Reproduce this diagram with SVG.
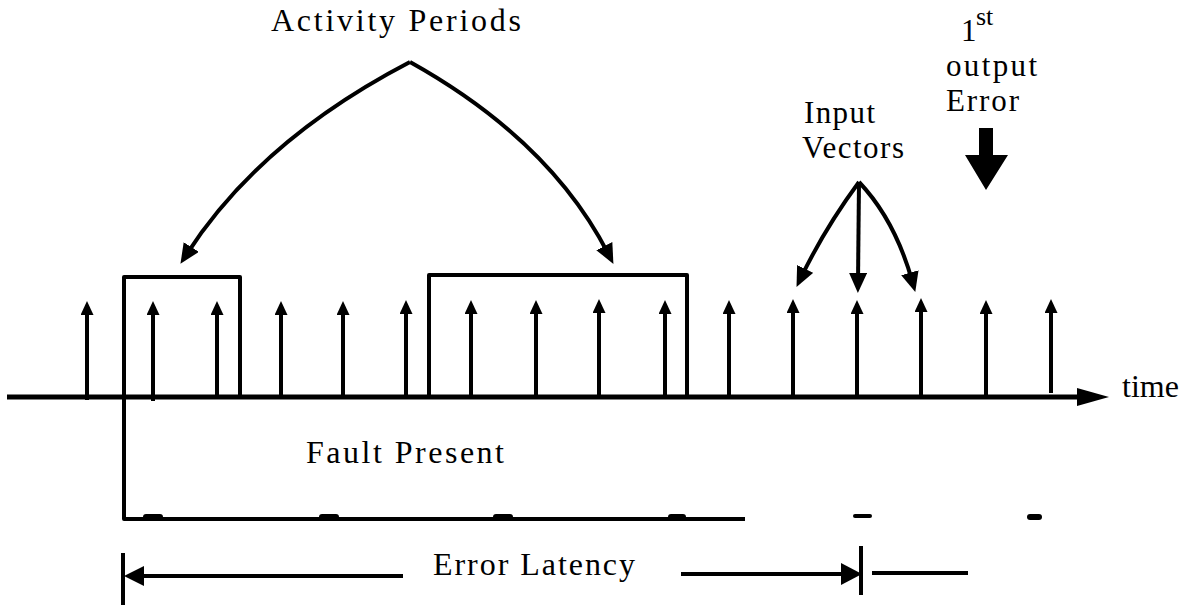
<svg xmlns="http://www.w3.org/2000/svg" width="1182" height="606" viewBox="0 0 1182 606">
<style>
.ln{fill:none;stroke:#000;stroke-width:4;stroke-linecap:butt;stroke-linejoin:round}
.ax{fill:none;stroke:#000;stroke-width:5}
.fl{fill:#000;stroke:none}
.tx{font-family:"Liberation Serif","Times New Roman",serif;font-size:32px;fill:#000}
.sm{font-size:31px}
</style>
<defs>
<marker id="ahS" markerUnits="userSpaceOnUse" viewBox="0 0 14 13" markerWidth="14" markerHeight="13" refX="5" refY="6.5" orient="auto">
<path d="M0,0 L14,6.5 L0,13 z" fill="#000"/>
</marker>
<marker id="ahL" markerUnits="userSpaceOnUse" viewBox="0 0 20 18" markerWidth="20" markerHeight="18" refX="9" refY="9" orient="auto">
<path d="M0,0 L20,9 L0,18 z" fill="#000"/>
</marker>
</defs>
<rect width="1182" height="606" fill="#fff"/>

<g id="time-axis">
<line class="ax" x1="7" y1="397" x2="1080" y2="397"/>
<polygon class="fl" points="1077,388 1109,397 1077,406"/>
<text class="tx" x="1122" y="397" textLength="57" lengthAdjust="spacing">time</text>
</g>

<g id="input-vectors">
<line class="ln" x1="87" y1="400" x2="87" y2="310" marker-end="url(#ahS)"/>
<line class="ln" x1="153" y1="401" x2="153" y2="310" marker-end="url(#ahS)"/>
<line class="ln" x1="217" y1="397" x2="217" y2="310" marker-end="url(#ahS)"/>
<line class="ln" x1="281" y1="397" x2="281" y2="310" marker-end="url(#ahS)"/>
<line class="ln" x1="343" y1="397" x2="343" y2="310" marker-end="url(#ahS)"/>
<line class="ln" x1="406" y1="397" x2="406" y2="309" marker-end="url(#ahS)"/>
<line class="ln" x1="471" y1="397" x2="471" y2="309" marker-end="url(#ahS)"/>
<line class="ln" x1="536" y1="397" x2="536" y2="309" marker-end="url(#ahS)"/>
<line class="ln" x1="599" y1="397" x2="599" y2="308" marker-end="url(#ahS)"/>
<line class="ln" x1="665" y1="397" x2="665" y2="309" marker-end="url(#ahS)"/>
<line class="ln" x1="729" y1="397" x2="729" y2="309" marker-end="url(#ahS)"/>
<line class="ln" x1="793" y1="397" x2="793" y2="308" marker-end="url(#ahS)"/>
<line class="ln" x1="857" y1="397" x2="857" y2="309" marker-end="url(#ahS)"/>
<line class="ln" x1="921" y1="397" x2="921" y2="307" marker-end="url(#ahS)"/>
<line class="ln" x1="986" y1="397" x2="986" y2="309" marker-end="url(#ahS)"/>
<line class="ln" x1="1051" y1="393" x2="1051" y2="308" marker-end="url(#ahS)"/>
</g>

<g id="activity-period-1">
<path class="ln" d="M124,397 V277 H240 V397"/>
</g>
<g id="activity-period-2">
<path class="ln" d="M429,397 V275 H687 V397"/>
</g>

<g id="activity-periods-label">
<text class="tx" x="271" y="31" textLength="250" lengthAdjust="spacing">Activity Periods</text>
</g>

<g id="input-vectors-label">
<text class="tx sm"><tspan x="804" y="123" textLength="71" lengthAdjust="spacing">Input</tspan><tspan x="802" y="158" textLength="102" lengthAdjust="spacing">Vectors</tspan></text>
</g>

<g id="first-output-error">
<text class="tx sm"><tspan x="961" y="41">1</tspan><tspan x="976" y="25" font-size="26">st</tspan><tspan x="946" y="76" textLength="91" lengthAdjust="spacing">output</tspan><tspan x="946" y="111" textLength="73" lengthAdjust="spacing">Error</tspan></text>
<polygon class="fl" points="979,128 993,128 993,155 1008,155 986,190 965,155 979,155"/>
</g>

<g id="fault-present">
<path class="ln" d="M124,397 V519 H745"/>
<rect class="fl" x="143" y="514" width="20" height="6" rx="3"/>
<rect class="fl" x="319" y="514" width="20" height="6" rx="3"/>
<rect class="fl" x="493" y="514" width="20" height="6" rx="3"/>
<rect class="fl" x="668" y="514" width="18" height="6" rx="3"/>
<rect class="fl" x="853" y="514" width="19" height="4" rx="2"/>
<rect class="fl" x="1027" y="514" width="15" height="6" rx="3"/>
<text class="tx" x="306" y="463" textLength="198" lengthAdjust="spacing">Fault Present</text>
</g>

<g id="error-latency">
<line class="ln" x1="123" y1="553" x2="123" y2="605"/>
<line class="ln" x1="140" y1="576" x2="403" y2="576"/>
<polygon class="fl" points="124,576 144,566 144,586"/>
<text class="tx" x="433" y="575" textLength="202" lengthAdjust="spacing">Error Latency</text>
<line class="ln" x1="681" y1="574" x2="846" y2="574"/>
<polygon class="fl" points="862,574 841,563 841,585"/>
<line class="ln" x1="861" y1="546" x2="861" y2="595"/>
<line class="ln" x1="872" y1="573" x2="968" y2="573"/>
</g>

<g id="connectors">
<path class="ln" d="M410,62 Q260,140 186.4,254.6" marker-end="url(#ahL)"/>
<path class="ln" d="M410,62 Q550,140 608.4,254.1" marker-end="url(#ahL)"/>
<path class="ln" d="M859,182 Q825,228 801.3,277" marker-end="url(#ahL)"/>
<path class="ln" d="M859,182 L858,282" marker-end="url(#ahL)"/>
<path class="ln" d="M859,182 Q895,220 912.3,281.4" marker-end="url(#ahL)"/>
</g>
</svg>
